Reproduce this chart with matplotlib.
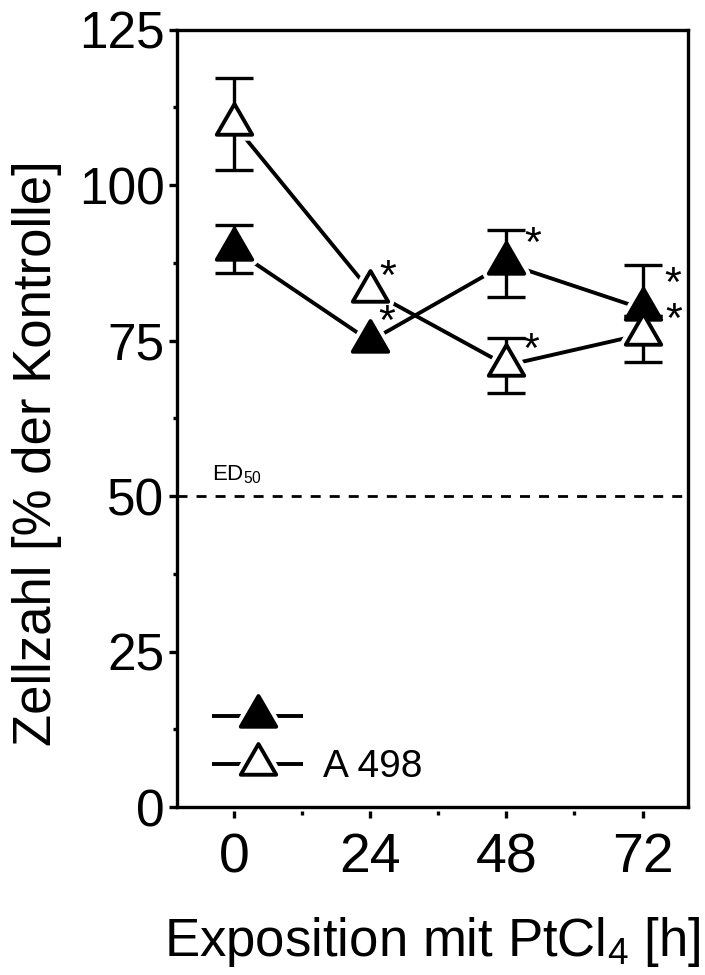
import matplotlib
matplotlib.use('Agg')
import numpy as np
import matplotlib.pyplot as plt
from matplotlib.markers import MarkerStyle
from matplotlib.path import Path
from matplotlib.legend_handler import HandlerTuple
from matplotlib.ticker import MultipleLocator

plt.rcParams['font.family'] = ['Liberation Sans', 'DejaVu Sans']
plt.rcParams['mathtext.fontset'] = 'custom'
plt.rcParams['mathtext.rm'] = 'Liberation Sans'
plt.rcParams['mathtext.default'] = 'regular'

# ---------------- data ----------------
hours = [0, 24, 48, 72]
filled_mean = [89.7, 74.9, 87.4, 80.1]
# error bars hidden behind markers in the reference are left out (NaN / small)
filled_err_low = [3.9, np.nan, 5.4, 1.2]
filled_err_high = [3.9, np.nan, 5.4, 7.0]
filled_sig = [False, True, True, True]
open_mean = [109.8, 83.0, 71.0, 76.0]
open_err_low = [7.4, np.nan, 4.4, 4.5]
open_err_high = [7.4, np.nan, 4.4, 3.0]
open_sig = [False, True, True, True]
filled_label = ''
open_label = 'A 498'
ed50 = 50
y_ticks = [0, 25, 50, 75, 100, 125]
x_ticks = [0, 24, 48, 72]

# ---------------- style ----------------
MS = 29.5
MEW = 2.8
LW = 2.8
GAP = 2.9
# star offsets (pixels, right / up) relative to data point
filled_star_off = [None, (17, 26), (26, 26), (30, 32)]
open_star_off = [None, (18, 21), (24, 22), (31, 21)]

fig = plt.figure(figsize=(7.05, 9.75), dpi=100)
ax = fig.add_axes([0.2511, 0.1723, 0.9759 - 0.2511, 0.9697 - 0.1723])

tri_path = Path([(-1, -0.57735), (1, -0.57735), (0, 1.1547), (-1, -0.57735)],
                [Path.MOVETO, Path.LINETO, Path.LINETO, Path.CLOSEPOLY])
m_main = MarkerStyle(tri_path, joinstyle='miter')
m_occ = MarkerStyle(tri_path, joinstyle='round')

series = [
    dict(mean=filled_mean, err=[filled_err_low, filled_err_high], face='k'),
    dict(mean=open_mean, err=[open_err_low, open_err_high], face='w'),
]

handles = []
for s in series:
    ln, = ax.plot(hours, s['mean'], color='k', lw=LW, zorder=2, solid_capstyle='butt')
    occ, = ax.plot(hours, s['mean'], ls='none', marker=m_occ, ms=MS, mew=MEW + 2 * GAP,
                   mfc='w', mec='w', zorder=3)
    handles.append([ln, occ])
for s in series:
    ax.errorbar(hours, s['mean'], yerr=s['err'], fmt='none', ecolor='k', elinewidth=2.4,
                capsize=14, capthick=2.4, zorder=4)
for h, s in zip(handles, series):
    mk, = ax.plot(hours, s['mean'], ls='none', marker=m_main, ms=MS, mew=MEW,
                  mfc=s['face'], mec='k', zorder=5)
    h.append(mk)

# significance stars
for mean, sig, offs in [(filled_mean, filled_sig, filled_star_off),
                        (open_mean, open_sig, open_star_off)]:
    for x, y, flag, o in zip(hours, mean, sig, offs):
        if flag:
            ax.annotate('*', xy=(x, y), xytext=(o[0], o[1] - 19),
                        textcoords='offset pixels', ha='center', va='baseline',
                        fontsize=31, zorder=6)

# ED50 line
ax.axhline(ed50, color='k', lw=2, dashes=(3.6, 3.25), zorder=1)
ax.annotate('ED$_{50}$', xy=(0, ed50), xycoords=ax.get_yaxis_transform(),
            xytext=(85, 16), textcoords='offset pixels', fontsize=16,
            ha='right', va='baseline')

ax.set_xlim(-10, 80)
ax.set_ylim(0, 125)
ax.set_yticks(y_ticks)
ax.yaxis.set_minor_locator(MultipleLocator(12.5))
ax.tick_params(axis='y', which='major', length=6, width=2.4, direction='out',
               labelsize=37, pad=3)
ax.tick_params(axis='y', which='minor', length=3, width=2.4, direction='out')
ax.tick_params(axis='x', which='both', bottom=False, labelbottom=False)
ax.set_xticks([])
for sp in ax.spines.values():
    sp.set_linewidth(2.4)

sec = ax.secondary_xaxis(-0.005)
sec.set_xticks(x_ticks)
sec.xaxis.set_minor_locator(MultipleLocator(12))
sec.spines['bottom'].set_visible(False)
sec.tick_params(which='major', length=5, width=2.4, direction='out',
                labelsize=40, pad=10.5)
sec.tick_params(which='minor', length=3, width=2.4, direction='out')
sec.set_xlabel('Exposition mit PtCl$_4$ [h]', fontsize=38, labelpad=22)

ax.set_ylabel('Zellzahl [% der Kontrolle]', fontsize=38)
ax.yaxis.set_label_coords(-0.225, 0.455)

ax.legend([tuple(handles[0]), tuple(handles[1])], [filled_label, open_label],
          handler_map={tuple: HandlerTuple(ndivide=1, pad=0)},
          loc='lower left', bbox_to_anchor=(0.0685, 0.028), frameon=False,
          fontsize=28, handlelength=2.34, handletextpad=0.51, labelspacing=0.3,
          borderpad=0, borderaxespad=0, numpoints=1)

fig.savefig('out.png', dpi=100)
